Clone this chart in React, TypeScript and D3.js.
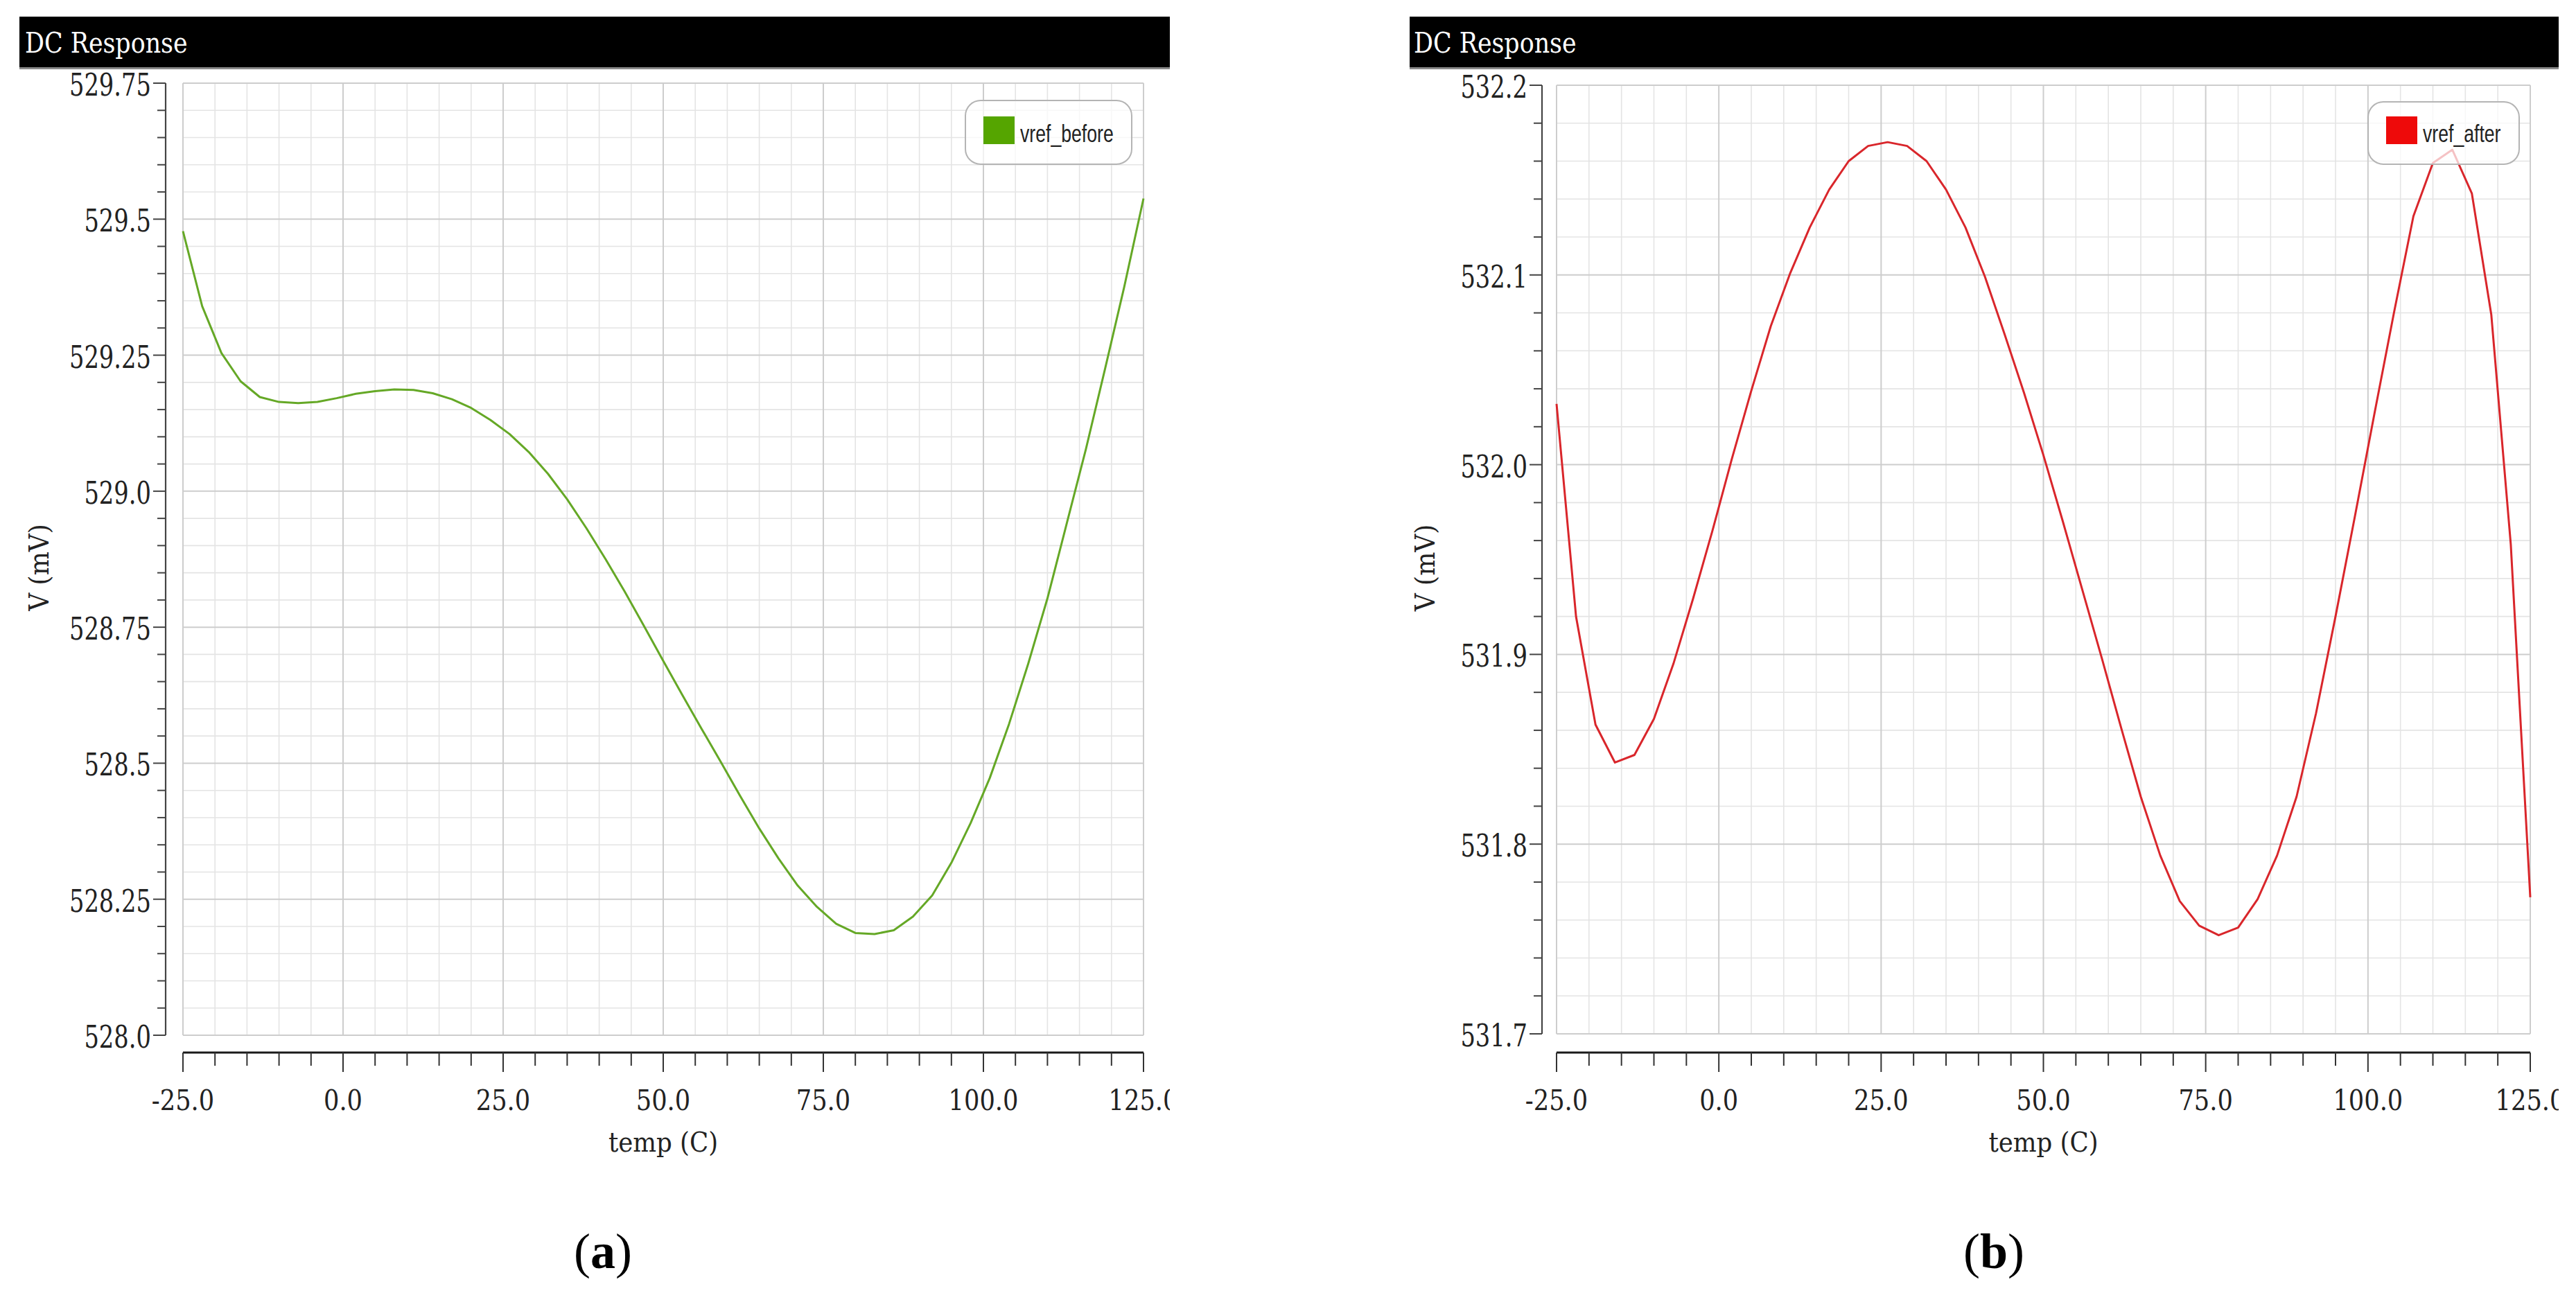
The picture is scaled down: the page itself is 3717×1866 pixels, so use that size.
import React from 'react';
import * as d3 from 'd3';

// ---- data ----
const temps = [-25, -22, -19, -16, -13, -10, -7, -4, -1, 2, 5, 8, 11, 14, 17, 20, 23, 26, 29, 32, 35, 38, 41, 44, 47, 50, 53, 56, 59, 62, 65, 68, 71, 74, 77, 80, 83, 86, 89, 92, 95, 98, 101, 104, 107, 110, 113, 116, 119, 122, 125];

const vrefBefore = [529.478, 529.34, 529.254, 529.202, 529.173, 529.164, 529.162, 529.164, 529.171, 529.179, 529.184, 529.187, 529.186, 529.18, 529.169, 529.153, 529.131, 529.105, 529.072, 529.032, 528.985, 528.932, 528.875, 528.815, 528.752, 528.688, 528.625, 528.563, 528.502, 528.44, 528.38, 528.325, 528.275, 528.236, 528.205, 528.188, 528.186, 528.193, 528.218, 528.257, 528.317, 528.39, 528.473, 528.572, 528.683, 528.803, 528.94, 529.077, 529.225, 529.376, 529.538];

const vrefAfter = [532.032, 531.92, 531.863, 531.843, 531.847, 531.866, 531.895, 531.929, 531.965, 532.003, 532.039, 532.073, 532.101, 532.125, 532.145, 532.16, 532.168, 532.17, 532.168, 532.16, 532.145, 532.125, 532.099, 532.069, 532.038, 532.005, 531.97, 531.934, 531.898, 531.861, 531.825, 531.794, 531.77, 531.757, 531.752, 531.756, 531.771, 531.794, 531.825, 531.869, 531.92, 531.973, 532.027, 532.08, 532.131, 532.159, 532.166, 532.143, 532.079, 531.958, 531.772];

const xTickValues = [-25, 0, 25, 50, 75, 100, 125];
const xTickLabels = ['-25.0', '0.0', '25.0', '50.0', '75.0', '100.0', '125.0'];

const yTicksBefore = [528.0, 528.25, 528.5, 528.75, 529.0, 529.25, 529.5, 529.75];
const yLabelsBefore = ['528.0', '528.25', '528.5', '528.75', '529.0', '529.25', '529.5', '529.75'];

const yTicksAfter = [531.7, 531.8, 531.9, 532.0, 532.1, 532.2];
const yLabelsAfter = ['531.7', '531.8', '531.9', '532.0', '532.1', '532.2'];

const seriesNames = ['vref_before', 'vref_after'];
const captions = ['a', 'b'];

const SERIF = '"DejaVu Serif", serif';
const SANS = '"Liberation Sans", Arial, sans-serif';
const TIMES = '"Liberation Serif", "Times New Roman", serif';

type Layout = {
  barX0: number; barX1: number; titleX: number;
  gx0: number; gx1: number; gy0: number; gy1: number;
  axisX: number; axisY: number;
  legX0: number; legX1: number; legY0: number; legY1: number;
  clipX0: number; clipX1: number;
  yLabelX: number; capX: number;
};

const layoutA: Layout = {
  barX0: 28, barX1: 1688, titleX: 36,
  gx0: 264, gx1: 1650, gy0: 120, gy1: 1494,
  axisX: 239, axisY: 1519,
  legX0: 1393, legX1: 1633, legY0: 145, legY1: 237,
  clipX0: 0, clipX1: 1688,
  yLabelX: 70, capX: 870,
};

const layoutB: Layout = {
  barX0: 2034, barX1: 3717, titleX: 2040,
  gx0: 2246, gx1: 3651, gy0: 123, gy1: 1492,
  axisX: 2225, axisY: 1519,
  legX0: 3417, legX1: 3635, legY0: 147, legY1: 237,
  clipX0: 1900, clipX1: 3692,
  yLabelX: 2070, capX: 2877,
};

function SText(props: any) {
  const { x, y, sx = 1, rotate = 0, anchor = 'start', size, family, fill = '#222', weight = 'normal', children } = props;
  return (
    <text
      transform={`translate(${x},${y}) rotate(${rotate}) scale(${sx},1)`}
      textAnchor={anchor}
      fontSize={size}
      fontFamily={family}
      fill={fill}
      fontWeight={weight}
    >
      {children}
    </text>
  );
}

function Panel(props: any) {
  const { L, id, values, yTicks, yLabels, yMinorStep, lineColor, swatchColor, legendLabel, caption } = props as {
    L: Layout; id: string; values: number[]; yTicks: number[]; yLabels: string[]; yMinorStep: number;
    lineColor: string; swatchColor: string; legendLabel: string; caption: string;
  };
  const yMin = yTicks[0];
  const yMax = yTicks[yTicks.length - 1];
  const x = d3.scaleLinear().domain([-25, 125]).range([L.gx0, L.gx1]);
  const y = d3.scaleLinear().domain([yMin, yMax]).range([L.gy1, L.gy0]);

  const xMinor = d3.range(-25, 125.001, 5);
  const nY = Math.round((yMax - yMin) / yMinorStep);
  const yMinor = d3.range(nY + 1).map((i) => yMin + i * yMinorStep);
  const isYMajor = (v: number) => yTicks.some((t) => Math.abs(t - v) < 1e-6);
  const isXMajor = (v: number) => xTickValues.some((t) => Math.abs(t - v) < 1e-6);

  const line = d3
    .line<number>()
    .x((_d, i) => x(temps[i]))
    .y((d) => y(d))
    .curve(d3.curveLinear);

  const clipId = `clip-${id}`;
  const plotClip = `plotclip-${id}`;

  return (
    <g clipPath={`url(#${clipId})`}>
      <defs>
        <clipPath id={clipId}>
          <rect x={L.clipX0} y={0} width={L.clipX1 - L.clipX0} height={1866} />
        </clipPath>
        <clipPath id={plotClip}>
          <rect x={L.gx0 - 2} y={L.gy0 - 2} width={L.gx1 - L.gx0 + 4} height={L.gy1 - L.gy0 + 4} />
        </clipPath>
      </defs>

      {/* title bar */}
      <rect x={L.barX0} y={24} width={L.barX1 - L.barX0} height={73} fill="#000" />
      <line x1={L.barX0} x2={L.barX1} y1={98.5} y2={98.5} stroke="#8a8a8a" strokeWidth={3} />
      <SText x={L.titleX} y={76} sx={0.85} size={41} family={SERIF} fill="#fff">DC Response</SText>

      {/* grid: minor first, then major */}
      {xMinor.filter((v) => !isXMajor(v)).map((v) => (
        <line key={`gxm${v}`} x1={x(v)} x2={x(v)} y1={L.gy0} y2={L.gy1} stroke="#e4e4e4" strokeWidth={1.6} />
      ))}
      {yMinor.filter((v) => !isYMajor(v)).map((v, i) => (
        <line key={`gym${i}`} x1={L.gx0} x2={L.gx1} y1={y(v)} y2={y(v)} stroke="#e4e4e4" strokeWidth={1.6} />
      ))}
      {xTickValues.map((v) => (
        <line key={`gx${v}`} x1={x(v)} x2={x(v)} y1={L.gy0} y2={L.gy1} stroke="#cdcdcd" strokeWidth={2} />
      ))}
      {yTicks.map((v) => (
        <line key={`gy${v}`} x1={L.gx0} x2={L.gx1} y1={y(v)} y2={y(v)} stroke="#cdcdcd" strokeWidth={2} />
      ))}

      {/* curve */}
      <path d={line(values) || ''} fill="none" stroke={lineColor} strokeWidth={3} strokeLinejoin="round" clipPath={`url(#${plotClip})`} />

      {/* legend */}
      <rect x={L.legX0} y={L.legY0} width={L.legX1 - L.legX0} height={L.legY1 - L.legY0} rx={22} ry={22}
        fill="#fff" fillOpacity={0.72} stroke="#b4b4b4" strokeWidth={2} />
      <rect x={L.legX0 + 26} y={168} width={45} height={40} fill={swatchColor} />
      <SText x={L.legX0 + 79} y={205} sx={0.74} size={36} family={SANS} fill="#222">{legendLabel}</SText>

      {/* y axis */}
      <line x1={L.axisX} x2={L.axisX} y1={L.gy0} y2={L.gy1} stroke="#444" strokeWidth={2.2} />
      {yMinor.map((v, i) => (
        <line key={`yt${i}`} x1={L.axisX - (isYMajor(v) ? 18 : 12)} x2={L.axisX} y1={y(v)} y2={y(v)} stroke="#444" strokeWidth={2} />
      ))}
      {yTicks.map((v, i) => (
        <SText key={`yl${v}`} x={L.axisX - 21} y={y(v) + 18} sx={0.75} anchor="end" size={45} family={SERIF} fill="#222">
          {yLabels[i]}
        </SText>
      ))}
      <SText x={L.yLabelX} y={(L.gy0 + L.gy1) / 2 + 12} rotate={-90} sx={0.9} anchor="middle" size={40} family={SERIF} fill="#222">
        V (mV)
      </SText>

      {/* x axis */}
      <line x1={L.gx0} x2={L.gx1} y1={L.axisY} y2={L.axisY} stroke="#1a1a1a" strokeWidth={3} />
      {xMinor.map((v) => (
        <line key={`xt${v}`} x1={x(v)} x2={x(v)} y1={L.axisY} y2={L.axisY + (isXMajor(v) ? 28 : 19)} stroke="#333" strokeWidth={2} />
      ))}
      {xTickValues.map((v, i) => (
        <SText key={`xl${v}`} x={x(v)} y={1602} sx={0.86} anchor="middle" size={41} family={SERIF} fill="#222">
          {xTickLabels[i]}
        </SText>
      ))}
      <SText x={(L.gx0 + L.gx1) / 2} y={1662} sx={0.89} anchor="middle" size={40} family={SERIF} fill="#222">
        temp (C)
      </SText>

      {/* caption */}
      <text x={L.capX} y={1830} textAnchor="middle" fontSize={72} fontFamily={TIMES} fill="#000">
        <tspan>(</tspan>
        <tspan fontWeight="bold">{caption}</tspan>
        <tspan>)</tspan>
      </text>
    </g>
  );
}

export default function App() {
  return (
    <svg
      width={3717}
      height={1866}
      viewBox="0 0 3717 1866"
      style={{ position: 'absolute', left: 0, top: 0, background: '#fff' }}
    >
      <rect x={0} y={0} width={3717} height={1866} fill="#fff" />
      <Panel
        L={layoutA}
        id="a"
        values={vrefBefore}
        yTicks={yTicksBefore}
        yLabels={yLabelsBefore}
        yMinorStep={0.05}
        lineColor="#65a826"
        swatchColor="#55a500"
        legendLabel={seriesNames[0]}
        caption={captions[0]}
      />
      <Panel
        L={layoutB}
        id="b"
        values={vrefAfter}
        yTicks={yTicksAfter}
        yLabels={yLabelsAfter}
        yMinorStep={0.02}
        lineColor="#d9262b"
        swatchColor="#ee0a0a"
        legendLabel={seriesNames[1]}
        caption={captions[1]}
      />
    </svg>
  );
}
